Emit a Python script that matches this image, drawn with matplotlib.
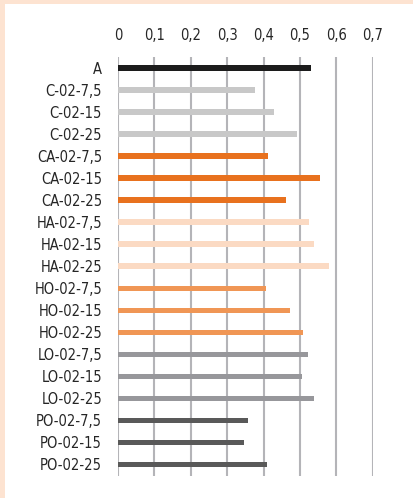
import matplotlib
matplotlib.use("Agg")
import matplotlib.pyplot as plt
from matplotlib.patches import Rectangle
from matplotlib import font_manager

categories = ["A", "C-02-7,5", "C-02-15", "C-02-25",
              "CA-02-7,5", "CA-02-15", "CA-02-25",
              "HA-02-7,5", "HA-02-15", "HA-02-25",
              "HO-02-7,5", "HO-02-15", "HO-02-25",
              "LO-02-7,5", "LO-02-15", "LO-02-25",
              "PO-02-7,5", "PO-02-15", "PO-02-25"]
values = [0.531, 0.376, 0.428, 0.492,
          0.412, 0.555, 0.461,
          0.524, 0.539, 0.580,
          0.407, 0.473, 0.508,
          0.523, 0.505, 0.540,
          0.357, 0.347, 0.409]
group_colors = {"A": "#1c1c1c", "C": "#c8c8c8", "CA": "#e8711e", "HA": "#fbdac3",
                "HO": "#f09655", "LO": "#97979b", "PO": "#595959"}
xticks = [0, 0.1, 0.2, 0.3, 0.4, 0.5, 0.6, 0.7]
xtick_labels = ["0", "0,1", "0,2", "0,3", "0,4", "0,5", "0,6", "0,7"]

entries = font_manager.fontManager.ttflist
names = {f.name for f in entries}
stretch = "normal"
size = 11
if "Liberation Sans Narrow" in names:
    fam = ["Liberation Sans Narrow", "DejaVu Sans"]
    size = 12
elif any(f.name == "DejaVu Sans" and str(f.stretch) in ("condensed", "semi-condensed", "600", "500", "700")
         for f in entries):
    fam = ["DejaVu Sans"]
    stretch = "condensed"
    size = 10.5
else:
    fam = ["Liberation Sans", "DejaVu Sans"]
plt.rcParams['font.family'] = fam
plt.rcParams['font.stretch'] = stretch

fig = plt.figure(figsize=(4.14, 4.98), dpi=100)
fig.patch.set_facecolor("white")
fig.patches.append(Rectangle((0, 1 - 4.5/498), 1, 4.5/498, transform=fig.transFigure,
                             facecolor="#fde3d1", edgecolor="none", zorder=0))
fig.patches.append(Rectangle((0, 0), 5/414, 1, transform=fig.transFigure,
                             facecolor="#fde3d1", edgecolor="none", zorder=0))

ax = fig.add_axes([118/414, 1 - 475.5/498, (372.7 - 118)/414, (475.5 - 57)/498])
ax.set_facecolor("none")

colors = [group_colors[c.split("-")[0]] for c in categories]
y = list(range(len(categories)))
ax.barh(y, values, height=0.25, color=colors, zorder=3)

ax.set_xlim(0, 0.7)
ax.set_ylim(len(categories) - 0.5, -0.5)
ax.set_xticks(xticks)
ax.set_xticklabels(xtick_labels, fontsize=size, color="#262626")
ax.xaxis.tick_top()
ax.set_yticks(y)
ax.set_yticklabels(categories, fontsize=size, color="#262626")
ax.tick_params(axis="both", length=0)
ax.tick_params(axis="x", pad=10)
ax.tick_params(axis="y", pad=11.5)
for s in ax.spines.values():
    s.set_visible(False)
ax.grid(axis="x", color="#b4b4b8", linewidth=1.5, zorder=0)
ax.grid(axis="y", visible=False)

fig.savefig("out.png", dpi=100)
